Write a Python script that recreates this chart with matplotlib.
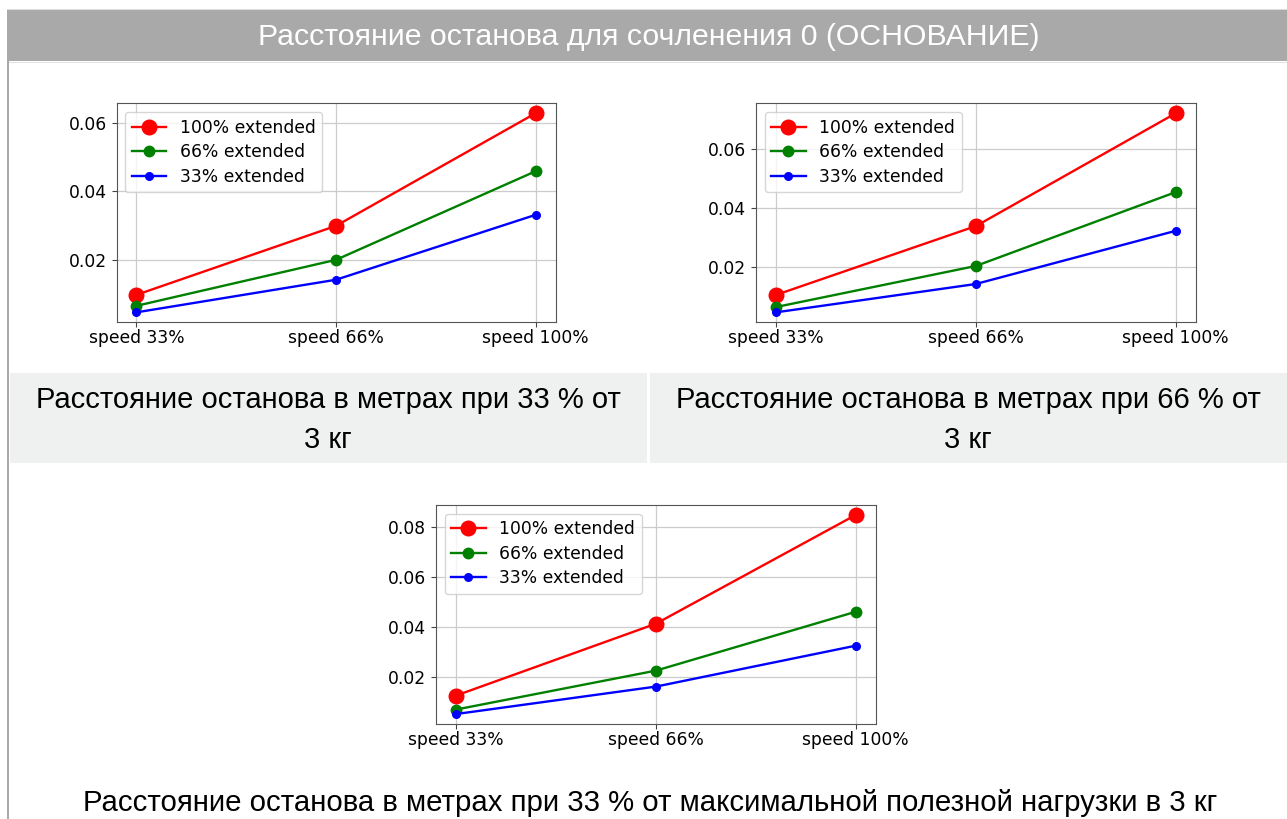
import matplotlib
matplotlib.use("Agg")
import matplotlib.pyplot as plt
from matplotlib.patches import Rectangle

# Данные
speeds = ["speed 33%", "speed 66%", "speed 100%"]
series_labels = ["100% extended", "66% extended", "33% extended"]

# 33 % нагрузки
p33_ext100 = [0.0098, 0.0299, 0.0627]
p33_ext66 = [0.0066, 0.0200, 0.0458]
p33_ext33 = [0.0047, 0.0142, 0.0331]

# 66 % нагрузки
p66_ext100 = [0.0106, 0.0339, 0.0721]
p66_ext66 = [0.0065, 0.0204, 0.0454]
p66_ext33 = [0.0047, 0.0143, 0.0323]

# нижний график
pb_ext100 = [0.0124, 0.0412, 0.0848]
pb_ext66 = [0.0068, 0.0224, 0.0460]
pb_ext33 = [0.0050, 0.0160, 0.0324]

header = "Расстояние останова для сочленения 0 (ОСНОВАНИЕ)"
caption_left = "Расстояние останова в метрах при 33 % от\n3 кг"
caption_right = "Расстояние останова в метрах при 66 % от\n3 кг"
caption_bottom = "Расстояние останова в метрах при 33 % от максимальной полезной нагрузки в 3 кг"

W, H = 1287, 819
fig = plt.figure(figsize=(W / 100, H / 100), dpi=100)

# фон страницы в пикселях
bg = fig.add_axes([0, 0, 1, 1])
bg.set_xlim(0, W)
bg.set_ylim(H, 0)
bg.axis("off")
bg.add_patch(Rectangle((7, 8.5), W, 1.5, color="#dddddd", lw=0))
bg.add_patch(Rectangle((7, 10), W, 51, color="#a9a9a9", lw=0))
bg.add_patch(Rectangle((7, 62), W, 1.2, color="#e2e2e2", lw=0))
bg.add_patch(Rectangle((7, 61), 2, H, color="#a9a9a9", lw=0))
bg.add_patch(Rectangle((10, 373), 637, 90, color="#eff0f0", lw=0))
bg.add_patch(Rectangle((650, 373), W, 90, color="#eff0f0", lw=0))
font = "Liberation Sans"
bg.text(649, 37, header, color="white", fontsize=21.8, family=font,
        ha="center", va="center")
bg.text(328, 420, caption_left, fontsize=21, family=font,
        ha="center", va="center", linespacing=1.5)
bg.text(968, 420, caption_right, fontsize=21, family=font,
        ha="center", va="center", linespacing=1.5)
bg.text(650, 803, caption_bottom, fontsize=21.2, family=font,
        ha="center", va="center")


def px_axes(left, top, right, bottom):
    return fig.add_axes([left / W, 1 - bottom / H, (right - left) / W, (bottom - top) / H])


def draw(ax, e100, e66, e33):
    ax.plot(speeds, e100, "r-o", lw=1.7, markersize=10.5, label=series_labels[0])
    ax.plot(speeds, e66, "g-o", lw=1.7, markersize=7.5, label=series_labels[1])
    ax.plot(speeds, e33, "b-o", lw=1.7, markersize=5.5, label=series_labels[2])
    ax.grid(True, color="#cccccc", lw=0.9)
    ax.tick_params(labelsize=12.3, color="#444444")
    ax.tick_params(axis="x", pad=1.5)
    for s in ax.spines.values():
        s.set_color("#555555")
    ax.legend(fontsize=12.3, loc="upper left", labelspacing=0.38)


ax1 = px_axes(116.5, 103.3, 555.5, 322.3)
draw(ax1, p33_ext100, p33_ext66, p33_ext33)
ax2 = px_axes(756, 103.3, 1195.7, 322.3)
draw(ax2, p66_ext100, p66_ext66, p66_ext33)
ax3 = px_axes(436, 505, 875.7, 724)
draw(ax3, pb_ext100, pb_ext66, pb_ext33)

fig.savefig("out.png", dpi=100)
